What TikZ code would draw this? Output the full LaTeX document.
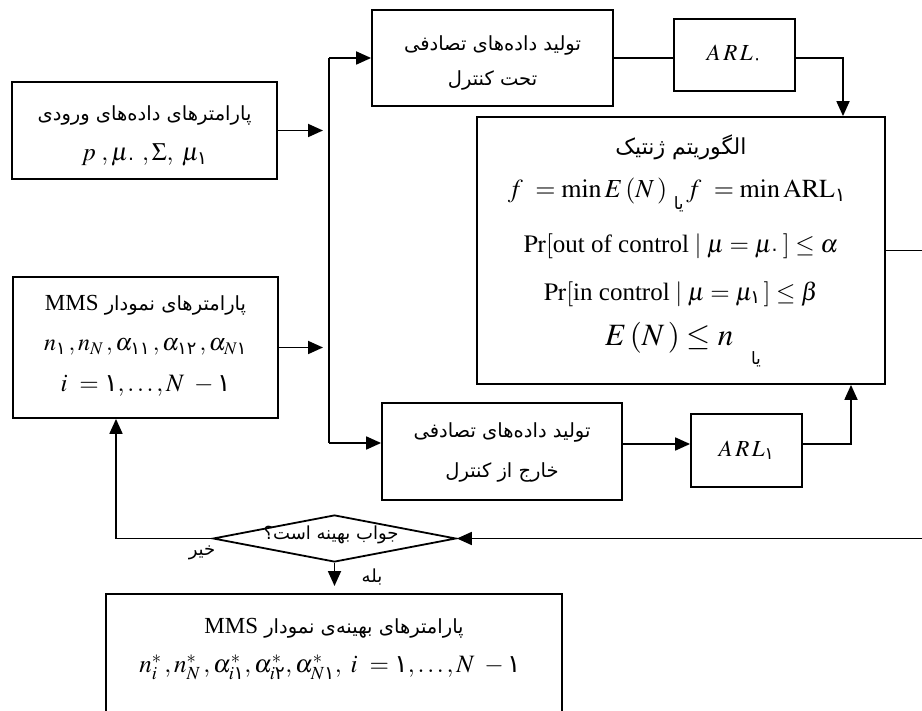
\documentclass[tikz,border=0pt]{standalone}
\usepackage{amsmath}
\usepackage{mathptmx}
\usepackage{fontspec}
\setmainfont{Liberation Serif}
\newfontfamily\arabicfont[Script=Arabic]{DejaVu Sans}
\TeXXeTstate=1
\usetikzlibrary{arrows.meta,shapes.geometric}
\newcommand{\fd}[1]{\text{\arabicfont #1}}
\newcommand{\fa}[1]{{\arabicfont\beginR #1\endR}}
\tikzset{
  box/.style={draw, line width=1.8pt, inner sep=0pt},
  fatxt/.style={font=\arabicfont\fontsize{19.5}{22}\selectfont, inner sep=0pt},
  smfa/.style={font=\arabicfont\fontsize{18}{20}\selectfont, inner sep=0pt},
  mtxt/.style={font=\fontsize{25}{28}\selectfont, inner sep=0pt},
  ln/.style={line width=1.8pt},
  arr/.style={line width=1.8pt, -{Triangle[length=15pt,width=13pt]}}
}
\begin{document}
\begin{tikzpicture}[x=1pt,y=-1pt]
\clip (0,0) rectangle (922,711);
\useasboundingbox (0,0) rectangle (922,711);
% boxes
\node[box, minimum width=241pt, minimum height=96pt] (gen0) at (492.5,58) {};
\node[box, minimum width=121pt, minimum height=72pt] (arl0) at (734.5,55) {};
\node[box, minimum width=408pt, minimum height=267pt] (ga) at (681,250.5) {};
\node[box, minimum width=265pt, minimum height=97pt] (inp) at (144.5,130.5) {};
\node[box, minimum width=265pt, minimum height=141pt] (mms) at (145.5,347.5) {};
\node[box, minimum width=240pt, minimum height=97pt] (gen1) at (502,451.5) {};
\node[box, minimum width=111pt, minimum height=73pt] (arl1) at (746.5,450.5) {};
\node[box, diamond, minimum width=243pt, minimum height=47pt] (dia) at (334.5,538.5) {};
\node[box, minimum width=456pt, minimum height=150pt] (fin) at (334,669) {};
% texts
\node[fatxt] (g0a) at (492.5,45) {\fa{تولید داده‌های تصادفی}};
\node[fatxt] (g0b) at (492.5,80) {\fa{تحت کنترل}};
\node[font=\fontsize{23}{26}\selectfont, inner sep=0pt] (a0t) at (734.5,55) {$A\,R\,L_{\fd{۰}}$};
\node[fatxt] (inpa) at (144.5,115) {\fa{پارامترهای داده‌های ورودی}};
\node[mtxt] (inpb) at (144.5,155) {$p\;,\mu_{\fd{۰}}\;,\Sigma,\;\mu_{\fd{۱}}$};
\node[fatxt] (mmsa) at (145.5,305) {\fa{پارامترهای نمودار \beginL{\rmfamily\fontsize{23}{26}\selectfont MMS}\endL}};
\node[font=\fontsize{24}{27}\selectfont, inner sep=0pt] (mmsb) at (145.5,347) {$n_{\fd{۱}}\,,n_{N}\,,\alpha_{\fd{۱۱}}\,,\alpha_{\fd{۱۲}}\,,\alpha_{N\fd{۱}}$};
\node[mtxt] (mmsc) at (145.5,386) {$i\ =\fd{۱},\ldots,N\ -\fd{۱}$};
\node[fatxt, font=\arabicfont\fontsize{22}{24}\selectfont] (gat) at (681,147) {\fa{الگوریتم ژنتیک}};
\node[font=\fontsize{26}{29}\selectfont, inner sep=0pt] (gaf) at (677,195) {$f\ =\min E\,(N\,)$\ \raisebox{-12pt}{\arabicfont\fontsize{17}{19}\selectfont یا}$\,f\ =\min\mathrm{ARL}_{\fd{۱}}$};
\node[mtxt] (gap) at (681,246) {$\Pr[\text{out of control}\mid \mu=\mu_{\fd{۰}}\,]\le\alpha$};
\node[mtxt] (gaq) at (681,294) {$\Pr[\text{in control}\mid \mu=\mu_{\fd{۱}}\,]\le\beta$};
\node[font=\fontsize{31}{34}\selectfont, inner sep=0pt, anchor=west] (gae) at (605,338) {$E\,(N\,)\le n$};
\node[smfa, font=\arabicfont\fontsize{17}{19}\selectfont] (gay) at (756,359) {\fa{یا}};
\node[fatxt] (g1a) at (502,432) {\fa{تولید داده‌های تصادفی}};
\node[fatxt] (g1b) at (502,472) {\fa{خارج از کنترل}};
\node[font=\fontsize{23}{26}\selectfont, inner sep=0pt] (a1t) at (746.5,450.5) {$A\,R\,L_{\fd{۱}}$};
\node[smfa] (diat) at (331,535) {\fa{جواب بهینه است؟}};
\node[smfa] (no) at (202,553) {\fa{خیر}};
\node[smfa] (yes) at (372,577) {\fa{بله}};
\node[fatxt] (fina) at (334,628) {\fa{پارامترهای بهینه‌ی نمودار \beginL{\rmfamily\fontsize{23}{26}\selectfont MMS}\endL}};
\node[mtxt] (finb) at (330,667) {$n^{*}_{i}\,,n^{*}_{N}\,,\alpha^{*}_{i\fd{۱}},\alpha^{*}_{i\fd{۲}},\alpha^{*}_{N\fd{۱}},\ i\ =\fd{۱},\ldots,N\ -\fd{۱}$};
% connectors
\coordinate (vtop) at (329,58);
\coordinate (vbot) at (329,443);
\draw[ln] (vtop) -- (vbot);
\draw[arr] (vtop) -- (vtop -| gen0.west);
\draw[arr] (vbot) -- (vbot -| gen1.west);
\draw[arr] (inp.east) -- (323,130.5);
\draw[arr] (mms.east) -- (323,347.5);
\draw[ln] (gen0.east |- vtop) -- (arl0.west |- vtop);
\coordinate (c0) at (843,58);
\draw[arr] (arl0.east |- c0) -- (c0) -- (c0 |- ga.north);
\coordinate (c1) at (851,444);
\draw[arr] (gen1.east |- c1) -- (arl1.west |- c1);
\draw[arr] (arl1.east |- c1) -- (c1) -- (c1 |- ga.south);
\coordinate (rt) at (940,538.5);
\draw[arr] (ga.east) -| (rt) -- (dia.east);
\coordinate (lt) at (116,538.5);
\draw[arr] (dia.west) -- (lt) -- (lt |- mms.south);
\coordinate (yt) at (334.5,586);
\draw[arr] (dia.south) -- (yt);
\end{tikzpicture}
\end{document}
